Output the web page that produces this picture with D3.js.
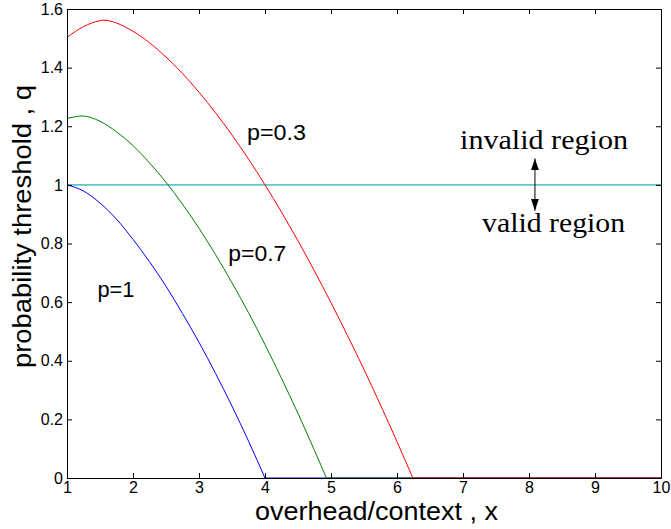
<!DOCTYPE html>
<html>
<head>
<meta charset="utf-8">
<script src="https://cdn.jsdelivr.net/npm/d3@7"></script>
<style>
  body { margin: 0; background: #fff; }
  svg { display: block; }
  .axis text { font-family: "Liberation Sans", Arial, Helvetica, sans-serif; font-size: 16px; fill: #000; }
  .axis path, .axis line { stroke: #000; }
  .serif { font-family: "Liberation Serif", "Times New Roman", Times, Tinos, "Nimbus Roman", serif; }
</style>
</head>
<body>
<div id="chart"></div>
<script>
// curves (x = overhead/context, q = probability threshold)
const xRed = [1, 1.25, 1.5, 1.56, 1.75, 2, 2.25, 2.5, 2.75, 3, 3.25, 3.5, 3.75, 4, 4.25, 4.5, 4.75, 5, 5.25, 5.5, 5.75, 6, 6.24, 10];
const qRed = [1.503, 1.540, 1.560, 1.562, 1.552, 1.524, 1.485, 1.436, 1.380, 1.316, 1.246, 1.170, 1.088, 1.0, 0.907, 0.809, 0.706, 0.598, 0.486, 0.370, 0.249, 0.124, 0, 0];

const xGreen = [1, 1.23, 1.5, 1.75, 2, 2.25, 2.5, 2.75, 3, 3.25, 3.5, 3.75, 4, 4.25, 4.5, 4.75, 4.93, 10];
const qGreen = [1.226, 1.235, 1.217, 1.181, 1.134, 1.075, 1.009, 0.934, 0.852, 0.762, 0.666, 0.564, 0.455, 0.340, 0.220, 0.094, 0, 0];

const xBlue = [1, 1.25, 1.5, 1.75, 2, 2.25, 2.5, 2.75, 3, 3.25, 3.5, 3.75, 4, 10];
const qBlue = [1.0, 0.979, 0.938, 0.883, 0.814, 0.738, 0.654, 0.561, 0.463, 0.357, 0.245, 0.126, 0, 0];

const xLimit = [1, 10];
const qLimit = [1, 1];

const xTicks = [1, 2, 3, 4, 5, 6, 7, 8, 9, 10];
const yTicks = [0, 0.2, 0.4, 0.6, 0.8, 1, 1.2, 1.4, 1.6];

const seriesNames = ["p=1", "p=0.7", "p=0.3"];

const width = 671, height = 529;
const plotLeft = 67, plotRight = 661, plotTop = 9, plotBottom = 478;

const x = d3.scaleLinear().domain([1, 10]).range([plotLeft, plotRight]);
const y = d3.scaleLinear().domain([0, 1.6]).range([plotBottom, plotTop]);

const svg = d3.select("#chart").append("svg")
  .attr("width", width)
  .attr("height", height);

const sans = '"Liberation Sans", Arial, Helvetica, sans-serif';

// threshold line q = 1
svg.append("path")
  .datum(d3.zip(xLimit, qLimit))
  .attr("fill", "none")
  .attr("stroke", "#5ccaca")
  .attr("stroke-width", 1.6)
  .attr("d", d3.line().x(d => x(d[0])).y(d => y(d[1])));

const series = [
  { xs: xBlue, qs: qBlue, colour: "#0000ff" },
  { xs: xGreen, qs: qGreen, colour: "#008000" },
  { xs: xRed, qs: qRed, colour: "#ff0000" }
];

const smooth = d3.line().x(d => x(d[0])).y(d => y(d[1])).curve(d3.curveMonotoneX);
const straight = d3.line().x(d => x(d[0])).y(d => y(d[1]));

series.forEach(s => {
  const pts = d3.zip(s.xs, s.qs);
  const zeroAt = s.qs.indexOf(0);
  // falling part is smooth, the part sitting on q = 0 is straight
  svg.append("path")
    .datum(pts.slice(0, zeroAt + 1))
    .attr("fill", "none")
    .attr("stroke", s.colour)
    .attr("stroke-width", 1)
    .attr("d", smooth);
  svg.append("path")
    .datum(pts.slice(zeroAt))
    .attr("fill", "none")
    .attr("stroke", s.colour)
    .attr("stroke-width", 1.2)
    .attr("d", straight);
});

// axes box with inward ticks
svg.append("g")
  .attr("class", "axis")
  .attr("transform", `translate(0,${plotBottom})`)
  .call(d3.axisBottom(x).tickValues(xTicks).tickFormat(d3.format("d")).tickSize(-5).tickSizeOuter(0).tickPadding(4));

svg.append("g")
  .attr("class", "axis")
  .attr("transform", `translate(${plotLeft},0)`)
  .call(d3.axisLeft(y).tickValues(yTicks).tickFormat(d => d === 0 || d === 1 ? d3.format("d")(d) : d3.format(".1f")(d)).tickSize(-5).tickSizeOuter(0).tickPadding(4));

svg.append("g")
  .attr("class", "axis")
  .attr("transform", `translate(0,${plotTop})`)
  .call(d3.axisTop(x).tickValues(xTicks).tickFormat("").tickSize(-5).tickSizeOuter(0));

svg.append("g")
  .attr("class", "axis")
  .attr("transform", `translate(${plotRight},0)`)
  .call(d3.axisRight(y).tickValues(yTicks).tickFormat("").tickSize(-5).tickSizeOuter(0));

// axis titles
svg.append("text")
  .attr("x", 376.5)
  .attr("y", 520)
  .attr("text-anchor", "middle")
  .attr("font-family", sans)
  .attr("font-size", 25)
  .attr("textLength", 243)
  .attr("lengthAdjust", "spacingAndGlyphs")
  .text("overhead/context , x");

svg.append("text")
  .attr("transform", "translate(31,226.5) rotate(-90)")
  .attr("text-anchor", "middle")
  .attr("font-family", sans)
  .attr("font-size", 25)
  .attr("textLength", 283)
  .attr("lengthAdjust", "spacingAndGlyphs")
  .text("probability threshold , q");

// curve labels
const labelSpots = [[1.462, 0.619, 37], [3.445, 0.740, 58], [3.727, 1.153, 59]];
seriesNames.forEach((name, i) => {
  svg.append("text")
    .attr("x", x(labelSpots[i][0]))
    .attr("y", y(labelSpots[i][1]))
    .attr("font-family", sans)
    .attr("font-size", 22)
    .attr("textLength", labelSpots[i][2])
    .attr("lengthAdjust", "spacingAndGlyphs")
    .text(name);
});

// region annotation
svg.append("text")
  .attr("class", "serif")
  .attr("x", x(6.955)).attr("y", y(1.123))
  .attr("font-size", 27)
  .attr("textLength", 168).attr("lengthAdjust", "spacingAndGlyphs")
  .text("invalid region");

svg.append("text")
  .attr("class", "serif")
  .attr("x", x(7.29)).attr("y", y(0.84))
  .attr("font-size", 27)
  .attr("textLength", 143).attr("lengthAdjust", "spacingAndGlyphs")
  .text("valid region");

const defs = svg.append("defs");
defs.append("marker")
  .attr("id", "head")
  .attr("viewBox", "0 0 12 8")
  .attr("refX", 12).attr("refY", 4)
  .attr("markerWidth", 12).attr("markerHeight", 8)
  .attr("markerUnits", "userSpaceOnUse")
  .attr("orient", "auto-start-reverse")
  .append("path")
  .attr("d", "M0,0 L12,4 L0,8 Z")
  .attr("fill", "#000");

svg.append("line")
  .attr("x1", x(8.09)).attr("x2", x(8.09))
  .attr("y1", y(1.09)).attr("y2", y(0.912))
  .attr("stroke", "#000")
  .attr("stroke-width", 1)
  .attr("marker-start", "url(#head)")
  .attr("marker-end", "url(#head)");
</script>
</body>
</html>
